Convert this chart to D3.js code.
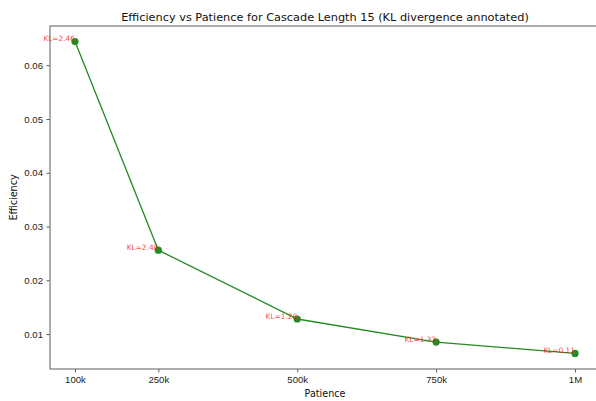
<!DOCTYPE html>
<html>
<head>
<meta charset="utf-8">
<script src="https://cdn.jsdelivr.net/npm/d3@7"></script>
<style>
  body { margin: 0; background: #fff; }
  svg { display: block; font-family: "DejaVu Sans", sans-serif; }
</style>
</head>
<body>
<svg id="chart" width="596" height="401"></svg>
<script>
  // data
  var patience = [100000, 250000, 500000, 750000, 1000000];
  var efficiency = [0.0644, 0.0256, 0.0128, 0.0085, 0.0064];
  var klLabels = ["KL=2.46", "KL=2.48", "KL=1.28", "KL=1.33", "KL=0.11"];
  var xTicks = [100000, 250000, 500000, 750000, 1000000];
  var xTickLabels = ["100k", "250k", "500k", "750k", "1M"];
  var yTicks = [0.01, 0.02, 0.03, 0.04, 0.05, 0.06];

  var width = 596, height = 401;
  var margin = { top: 26, right: -4, bottom: 32, left: 50 };
  var innerW = width - margin.left - margin.right;
  var innerH = height - margin.top - margin.bottom;

  var svg = d3.select("#chart");
  var g = svg.append("g").attr("transform", "translate(" + margin.left + "," + margin.top + ")");

  // matplotlib style 5% padding
  var xPad = (d3.max(patience) - d3.min(patience)) * 0.05;
  var yPad = (d3.max(efficiency) - d3.min(efficiency)) * 0.05;

  var x = d3.scaleLinear()
    .domain([d3.min(patience) - xPad, d3.max(patience) + xPad])
    .range([0, innerW]);
  var y = d3.scaleLinear()
    .domain([d3.min(efficiency) - yPad, d3.max(efficiency) + yPad])
    .range([innerH, 0]);

  var xAxis = d3.axisBottom(x)
    .tickValues(xTicks)
    .tickFormat(function (d, i) { return xTickLabels[i]; })
    .tickSize(3.5).tickPadding(3.5);
  var yAxis = d3.axisLeft(y)
    .tickValues(yTicks)
    .tickFormat(d3.format(".2f"))
    .tickSize(3.5).tickPadding(3.5);

  var gx = g.append("g").attr("transform", "translate(0," + innerH + ")").call(xAxis);
  var gy = g.append("g").call(yAxis);

  [gx, gy].forEach(function (a) {
    a.select(".domain").remove();
    a.selectAll(".tick line").attr("stroke", "#333").attr("stroke-width", 0.8);
    a.selectAll(".tick text").attr("fill", "#222").style("font-size", "9.6px");
  });

  // frame
  g.append("rect")
    .attr("x", 0).attr("y", 0)
    .attr("width", innerW).attr("height", innerH)
    .attr("fill", "none")
    .attr("stroke", "#777")
    .attr("stroke-width", 1.2);

  var line = d3.line()
    .x(function (d, i) { return x(patience[i]); })
    .y(function (d) { return y(d); });

  g.append("path")
    .datum(efficiency)
    .attr("d", line)
    .attr("fill", "none")
    .attr("stroke", "#228b22")
    .attr("stroke-width", 1.3);

  g.selectAll("circle.pt")
    .data(efficiency)
    .enter().append("circle")
    .attr("class", "pt")
    .attr("cx", function (d, i) { return x(patience[i]); })
    .attr("cy", function (d) { return y(d); })
    .attr("r", 3.6)
    .attr("fill", "#228b22");

  g.selectAll("text.kl")
    .data(efficiency)
    .enter().append("text")
    .attr("class", "kl")
    .attr("x", function (d, i) { return x(patience[i]); })
    .attr("y", function (d) { return y(d) - 0.5; })
    .attr("text-anchor", "end")
    .attr("fill", "red")
    .attr("fill-opacity", 0.75)
    .style("font-size", "7.4px")
    .text(function (d, i) { return klLabels[i]; });

  // title and axis labels
  svg.append("text")
    .attr("x", margin.left + innerW / 2)
    .attr("y", 21)
    .attr("text-anchor", "middle")
    .attr("fill", "#111")
    .style("font-size", "11.3px")
    .text("Efficiency vs Patience for Cascade Length 15 (KL divergence annotated)");

  svg.append("text")
    .attr("x", margin.left + innerW / 2)
    .attr("y", 397)
    .attr("text-anchor", "middle")
    .attr("fill", "#111")
    .style("font-size", "9.6px")
    .text("Patience");

  svg.append("text")
    .attr("transform", "translate(17," + (margin.top + innerH / 2) + ") rotate(-90)")
    .attr("text-anchor", "middle")
    .attr("fill", "#111")
    .style("font-size", "9.6px")
    .text("Efficiency");
</script>
</body>
</html>
